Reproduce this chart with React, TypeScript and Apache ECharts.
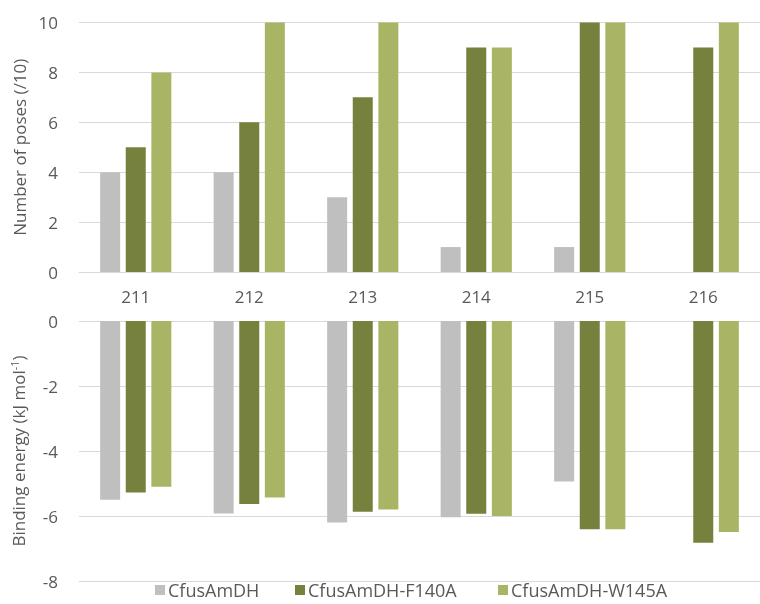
import React, { useEffect, useRef } from "react";
import * as echarts from "echarts";

const categories = ["211", "212", "213", "214", "215", "216"];
const seriesNames = ["CfusAmDH", "CfusAmDH-F140A", "CfusAmDH-W145A"];
const posesWT = [4, 4, 3, 1, 1, 0];
const posesF140A = [5, 6, 7, 9, 10, 9];
const posesW145A = [8, 10, 10, 9, 10, 10];
const energyWT = [-5.5, -5.92, -6.2, -6.04, -4.94, 0];
const energyF140A = [-5.28, -5.63, -5.87, -5.93, -6.41, -6.82];
const energyW145A = [-5.1, -5.43, -5.8, -6.0, -6.41, -6.49];
const colors = ["#bfbfbf", "#76813e", "#a9b564"];
const legendLefts = [155, 295, 498];

const FONT = "'Open Sans', 'Noto Sans', sans-serif";
const TXT = "#595959";
const GRID = "#d9d9d9";

export default function App() {
  const ref = useRef<HTMLDivElement>(null);
  useEffect(() => {
    if (!ref.current) return;
    const chart = echarts.init(ref.current, null, { renderer: "svg" });
    const mkBar = (i: number, data: number[], axis: number) => ({
      type: "bar",
      name: seriesNames[i],
      xAxisIndex: axis,
      yAxisIndex: axis,
      data,
      barWidth: 20,
      barGap: "28%",
      itemStyle: { color: colors[i] },
    });
    chart.setOption({
      animation: false,
      textStyle: { fontFamily: FONT },
      legend: seriesNames.map((n, i) => ({
        data: [n],
        left: legendLefts[i],
        top: 581,
        padding: 0,
        icon: "rect",
        itemWidth: 10,
        itemHeight: 10,
        itemGap: 4,
        textStyle: { color: TXT, fontSize: 18, lineHeight: 18, fontFamily: FONT, padding: [0, 0, 0, -2] },
      })),
      grid: [
        { left: 79, top: 22.5, width: 690, height: 249.5 },
        { left: 79, top: 321, width: 690, height: 260 },
      ],
      xAxis: [
        {
          type: "category",
          gridIndex: 0,
          data: categories,
          axisLine: { lineStyle: { color: GRID } },
          axisTick: { show: false },
          axisLabel: { color: TXT, fontSize: 17, margin: 16, fontFamily: FONT },
        },
        {
          type: "category",
          gridIndex: 1,
          data: categories,
          position: "top",
          axisLine: { show: false },
          axisTick: { show: false },
          axisLabel: { show: false },
        },
      ],
      yAxis: [
        {
          type: "value",
          gridIndex: 0,
          min: 0,
          max: 10,
          interval: 2,
          name: "Number of poses (/10)",
          nameLocation: "middle",
          nameGap: 51,
          nameTextStyle: { color: TXT, fontSize: 17, fontFamily: FONT },
          axisLine: { show: false },
          axisTick: { show: false },
          axisLabel: { color: TXT, fontSize: 17, margin: 21, fontFamily: FONT },
          splitLine: { lineStyle: { color: GRID } },
        },
        {
          type: "value",
          gridIndex: 1,
          min: -8,
          max: 0,
          interval: 2,
          name: "Binding energy (kJ mol{sup|-1})",
          nameLocation: "middle",
          nameGap: 51,
          nameTextStyle: {
            color: TXT,
            fontSize: 17,
            fontFamily: FONT,
            rich: {
              sup: { fontSize: 11, verticalAlign: "top", color: TXT, fontFamily: FONT, padding: [0, 0, 8, 0] },
            },
          },
          axisLine: { show: false },
          axisTick: { show: false },
          axisLabel: { color: TXT, fontSize: 17, margin: 21, fontFamily: FONT },
          splitLine: { lineStyle: { color: GRID } },
        },
      ],
      series: [
        mkBar(0, posesWT, 0),
        mkBar(1, posesF140A, 0),
        mkBar(2, posesW145A, 0),
        mkBar(0, energyWT, 1),
        mkBar(1, energyF140A, 1),
        mkBar(2, energyW145A, 1),
      ],
    });
    return () => chart.dispose();
  }, []);
  return (
    <div
      ref={ref}
      style={{ position: "fixed", left: 0, top: 0, width: 760, height: 604 }}
    />
  );
}
